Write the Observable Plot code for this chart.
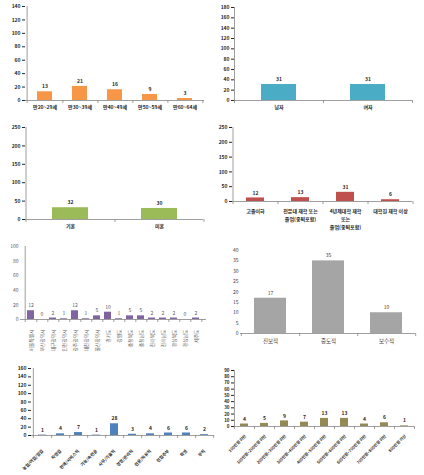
<!DOCTYPE html>
<html><head><meta charset="utf-8">
<script src="https://cdn.jsdelivr.net/npm/d3@7"></script>
<script src="https://cdn.jsdelivr.net/npm/@observablehq/plot@0.6"></script>
<style>
body{margin:0;background:#fff;}
#wrap{position:relative;width:424px;height:475px;overflow:hidden;background:#fff;}
.pn{position:absolute;}
</style></head>
<body><div id="wrap"></div>
<script>
// ---- data ----
const ageCats = ["만20~29세","만30~39세","만40~49세","만50~59세","만60~64세"];
const ageVals = [13,21,16,9,3];
const ageTicks = [0,20,40,60,80,100,120,140];

const genderCats = ["남자","여자"];
const genderVals = [31,31];
const genderTicks = [0,20,40,60,80,100,120,140,160,180];

const maritalCats = ["기혼","미혼"];
const maritalVals = [32,30];
const maritalTicks = [0,50,100,150,200,250];

const eduCats = ["고졸이하","전문대 재학 또는\n졸업(중퇴포함)","4년제대학 재학\n또는\n졸업(중퇴포함)","대학원 재학 이상"];
const eduVals = [12,13,31,6];
const eduTicks = [0,50,100,150,200,250];

const regionCats = ["서울특별시","부산광역시","대구광역시","인천광역시","광주광역시","대전광역시","울산광역시","경기도","강원도","충청북도","충청남도","전라북도","전라남도","경상북도","경상남도","제주도"];
const regionVals = [12,0,2,1,12,1,5,10,1,5,5,2,2,2,0,2];
const regionTicks = [0,20,40,60,80,100];

const ideoCats = ["진보적","중도적","보수적"];
const ideoVals = [17,35,10];
const ideoTicks = [0,5,10,15,20,25,30,35,40];

const jobCats = ["농업/어업/임업","자영업","판매/서비스직","기능/숙련공","사무/기술직","경영/관리직","전문/자유직","전업주부","학생","무직"];
const jobVals = [1,4,7,1,28,3,4,6,6,2];
const jobTicks = [0,20,40,60,80,100,120,140,160];

const incCats = ["100만원 미만","100만원~200만원 미만","200만원~300만원 미만","300만원~400만원 미만","400만원~500만원 미만","500만원~600만원 미만","600만원~700만원 미만","700만원~800만원 미만","800만원 이상"];
const incVals = [4,5,9,7,13,13,4,6,1];
const incTicks = [0,10,20,30,40,50,60,70,80,90];

const axisGray = "#868686";
const FONT = "'Noto Sans CJK KR','Noto Sans',sans-serif";

function panel(c) {
  const data = c.cats.map((d,i)=>({c:d, v:c.vals[i]}));
  const step = (c.w - c.ml - c.mr) / c.cats.length;
  const tc = c.textColor || "#262626";
  const fw = c.weight || "bold";
  const marks = [
    Plot.barY(data, {x:"c", y:"v", fill:c.color}),
    Plot.ruleY([0], {stroke:axisGray, strokeWidth:0.8}),
    Plot.ruleX(c.cats, {dx: step/2, y1:0, y2:0, insetBottom:-3, stroke:axisGray, strokeWidth:0.8}),
    Plot.ruleX([c.cats[0]], {dx: -step/2, y1:0, y2:0, insetBottom:-3, stroke:axisGray, strokeWidth:0.8}),
    Plot.text(data, {x:"c", y:"v", text:d=>String(d.v), dy:-5, fontSize:c.valFs||5, fontWeight:fw, fill:tc}),
    Plot.text(data, Object.assign({x:"c", y:0, text:"c", fontSize:c.fs||5, fontWeight:fw, fill:tc}, c.labelOpts))
  ];
  if (c.yLine !== false) marks.splice(2,0, Plot.ruleX([c.cats[0]], {dx:-step/2, stroke:axisGray, strokeWidth:0.8}));
  const svg = Plot.plot({
    width:c.w, height:c.h,
    marginLeft:c.ml, marginRight:c.mr, marginTop:c.mt, marginBottom:c.mb,
    style:{background:"transparent", overflow:"visible", fontFamily:FONT, fontSize:(c.tickFs||5)+"px", fontWeight:fw, color: c.tickColor || tc},
    x:{domain:c.cats, paddingInner:c.pad, paddingOuter:c.pad/2, axis:null},
    y:{domain:[0,c.yMax], ticks:c.ticks, tickSize:c.tickSize===undefined?3:c.tickSize, tickPadding:2, label:null, tickFormat:d=>String(d)},
    marks
  });
  const div = document.createElement("div");
  div.className = "pn";
  div.style.left = c.left+"px"; div.style.top = c.top+"px";
  div.appendChild(svg);
  document.getElementById("wrap").appendChild(div);
}

panel({cats:ageCats, vals:ageVals, ticks:ageTicks, yMax:140, color:"#F79646",
  left:0, top:0, w:212, h:115, ml:25, mr:8, mt:6, mb:15, pad:0.58,
  labelOpts:{dy:5, lineAnchor:"top"}});

panel({cats:genderCats, vals:genderVals, ticks:genderTicks, yMax:180, color:"#4BACC6",
  left:212, top:0, w:212, h:115, ml:22, mr:12, mt:7, mb:15, pad:0.61,
  labelOpts:{dy:5, lineAnchor:"top"}});

panel({cats:maritalCats, vals:maritalVals, ticks:maritalTicks, yMax:250, color:"#9BBB59",
  left:0, top:115, w:212, h:120, ml:25, mr:9, mt:12, mb:16, pad:0.6,
  labelOpts:{dy:5, lineAnchor:"top"}});

panel({cats:eduCats, vals:eduVals, ticks:eduTicks, yMax:250, color:"#C0504D",
  left:212, top:115, w:212, h:120, ml:20, mr:12, mt:12, mb:34, pad:0.6,
  labelOpts:{dy:6, lineAnchor:"top", lineHeight:1.6}});

panel({cats:regionCats, vals:regionVals, ticks:regionTicks, yMax:100, color:"#8064A2",
  left:0, top:235, w:212, h:120, ml:20, mr:6, mt:11, mb:36, pad:0.4,
  textColor:"#595959", weight:"normal", tickSize:0, fs:4.8,
  labelOpts:{rotate:-90, textAnchor:"end", dy:10}});

panel({cats:ideoCats, vals:ideoVals, ticks:ideoTicks, yMax:40, color:"#A5A5A5",
  left:212, top:235, w:212, h:120, ml:28, mr:9, mt:15, mb:22, pad:0.45,
  textColor:"#404040", weight:"normal", yLine:false, tickSize:0, fs:5.5,
  labelOpts:{dy:6, lineAnchor:"top"}});

panel({cats:jobCats, vals:jobVals, ticks:jobTicks, yMax:160, color:"#4F81BD",
  left:0, top:355, w:216, h:120, ml:31, mr:2, mt:13, mb:40, pad:0.56, fs:4.3,
  labelOpts:{rotate:-45, textAnchor:"end", dx:0, dy:15}});

panel({cats:incCats, vals:incVals, ticks:incTicks, yMax:90, color:"#948A54",
  left:212, top:355, w:212, h:120, ml:22, mr:10, mt:15, mb:49, pad:0.62, fs:4, tickFs:4.5,
  labelOpts:{rotate:-45, textAnchor:"end", dx:1, dy:9}});
</script></body></html>
